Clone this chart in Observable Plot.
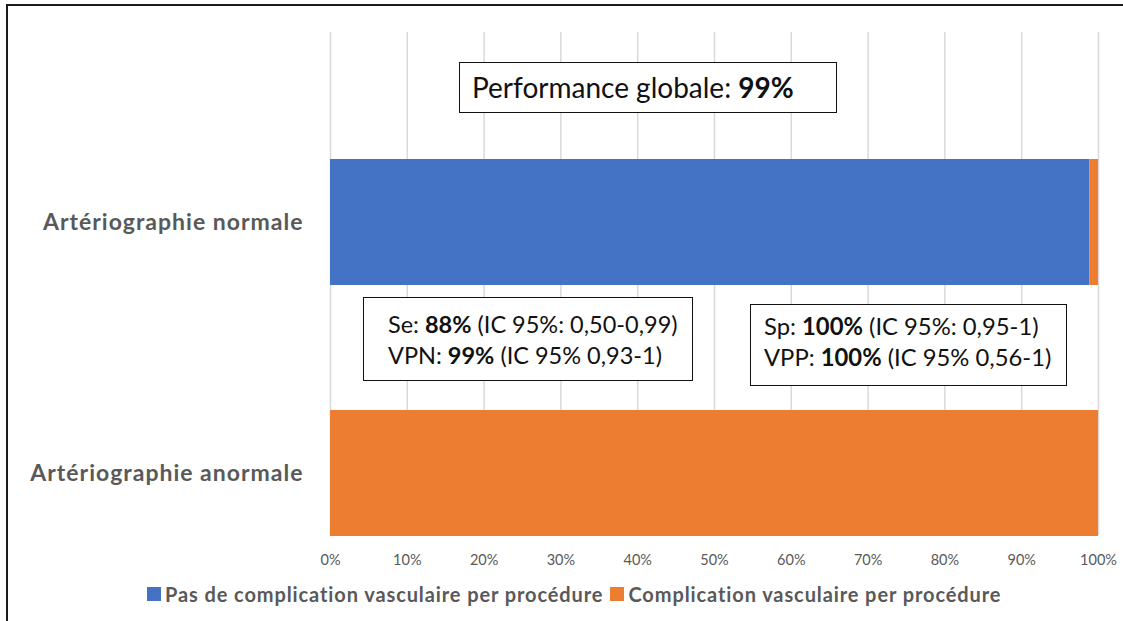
<!DOCTYPE html>
<html>
<head>
<meta charset="utf-8">
<script src="https://cdn.jsdelivr.net/npm/d3@7"></script>
<script src="https://cdn.jsdelivr.net/npm/@observablehq/plot@0.6"></script>
<style>
  html, body { margin: 0; padding: 0; background: #fff; }
  #wrap { position: relative; width: 1123px; height: 621px; overflow: hidden; font-family: Lato, "Open Sans", sans-serif; }
  #frame { position: absolute; left: 6px; top: 4px; width: 1200px; height: 700px; border-left: 2px solid #1a1a1a; border-top: 2px solid #1a1a1a; pointer-events: none; }
  #chart { position: absolute; left: 0; top: 0; }
  #chart svg g[aria-label="y-axis tick label"] text { letter-spacing: 1px; }
  .box { position: absolute; background: #fff; border: 1.5px solid #111; box-sizing: border-box; color: #111; font-family: Lato, sans-serif; }
  .box b { font-weight: 700; }
  #legend { position: absolute; top: 582px; left: 147px; display: flex; font-family: Lato, sans-serif; font-weight: 700; font-size: 20px; letter-spacing: 0.9px; color: #595959; }
  #legend span.item { display: inline-flex; align-items: center; margin-right: 7px; white-space: nowrap; }
  #legend span.sw { display: inline-block; width: 14px; height: 14px; margin-right: 4px; }
</style>
</head>
<body>
<div id="wrap">
  <div id="chart"></div>
  <div id="frame"></div>
  <div id="legend"></div>
</div>
<script>
const categories = ["Artériographie normale", "Artériographie anormale"];
const seriesNames = ["Pas de complication vasculaire per procédure", "Complication vasculaire per procédure"];
const seriesColors = ["#4472C4", "#ED7D31"];
const noComplication = [98.9, 0];
const complication = [1.1, 100];
const xTicks = [0, 10, 20, 30, 40, 50, 60, 70, 80, 90, 100];

const annotations = [
  {id: "perf", lines: [["Performance globale: ", "99%", ""]]},
  {id: "sens", lines: [["Se: ", "88%", " (IC 95%: 0,50-0,99)"], ["VPN: ", "99%", " (IC 95% 0,93-1)"]]},
  {id: "spec", lines: [["Sp: ", "100%", " (IC 95%: 0,95-1)"], ["VPP: ", "100%", " (IC 95% 0,56-1)"]]}
];

const data = [];
categories.forEach((c, i) => {
  data.push({category: c, series: seriesNames[0], value: noComplication[i]});
  data.push({category: c, series: seriesNames[1], value: complication[i]});
});

const chart = Plot.plot({
  width: 1123,
  height: 575,
  marginTop: 32,
  marginBottom: 40,
  marginLeft: 330,
  marginRight: 25,
  style: {fontFamily: "Lato, sans-serif", background: "transparent", overflow: "visible"},
  x: {domain: [0, 100], ticks: xTicks, tickFormat: d => d + "%", label: null},
  y: {domain: categories, paddingInner: 0.5, paddingOuter: 0.25, align: 1, label: null},
  color: {domain: seriesNames, range: seriesColors},
  marks: [
    Plot.gridX(xTicks, {stroke: "#d9d9d9", strokeOpacity: 1, strokeWidth: 1.5}),
    Plot.barX(data, Plot.stackX({x: "value", y: "category", fill: "series", order: seriesNames})),
    Plot.axisX(xTicks, {tickSize: 0, tickPadding: 19, fontSize: 14.5, fill: "#595959", tickFormat: d => d + "%"}),
    Plot.axisY({tickSize: 0, tickPadding: 27, fontSize: 23, fontWeight: "bold", fill: "#595959", ariaLabel: "y-axis"})
  ]
});
document.getElementById("chart").appendChild(chart);

// legend
const legend = document.getElementById("legend");
seriesNames.forEach((s, i) => {
  const item = document.createElement("span");
  item.className = "item";
  const sw = document.createElement("span");
  sw.className = "sw";
  sw.style.background = seriesColors[i];
  item.appendChild(sw);
  item.appendChild(document.createTextNode(s));
  legend.appendChild(item);
});

// annotation boxes
const boxLayout = {
  perf: {left: 459, top: 62, width: 378, height: 51, fontSize: 28, pad: "7px 0 0 12px", lh: 34},
  sens: {left: 363, top: 297, width: 330, height: 84, fontSize: 23.5, pad: "11px 0 0 24px", lh: 31},
  spec: {left: 750, top: 304, width: 317, height: 82, fontSize: 23.8, pad: "6px 0 0 13px", lh: 31}
};
const wrap = document.getElementById("wrap");
annotations.forEach(a => {
  const L = boxLayout[a.id];
  const div = document.createElement("div");
  div.className = "box";
  Object.assign(div.style, {left: L.left + "px", top: L.top + "px", width: L.width + "px", height: L.height + "px", fontSize: L.fontSize + "px", padding: L.pad, lineHeight: L.lh + "px"});
  a.lines.forEach(parts => {
    const line = document.createElement("div");
    line.style.whiteSpace = "nowrap";
    line.appendChild(document.createTextNode(parts[0]));
    const b = document.createElement("b");
    b.textContent = parts[1];
    line.appendChild(b);
    line.appendChild(document.createTextNode(parts[2]));
    div.appendChild(line);
  });
  wrap.appendChild(div);
});
</script>
</body>
</html>
